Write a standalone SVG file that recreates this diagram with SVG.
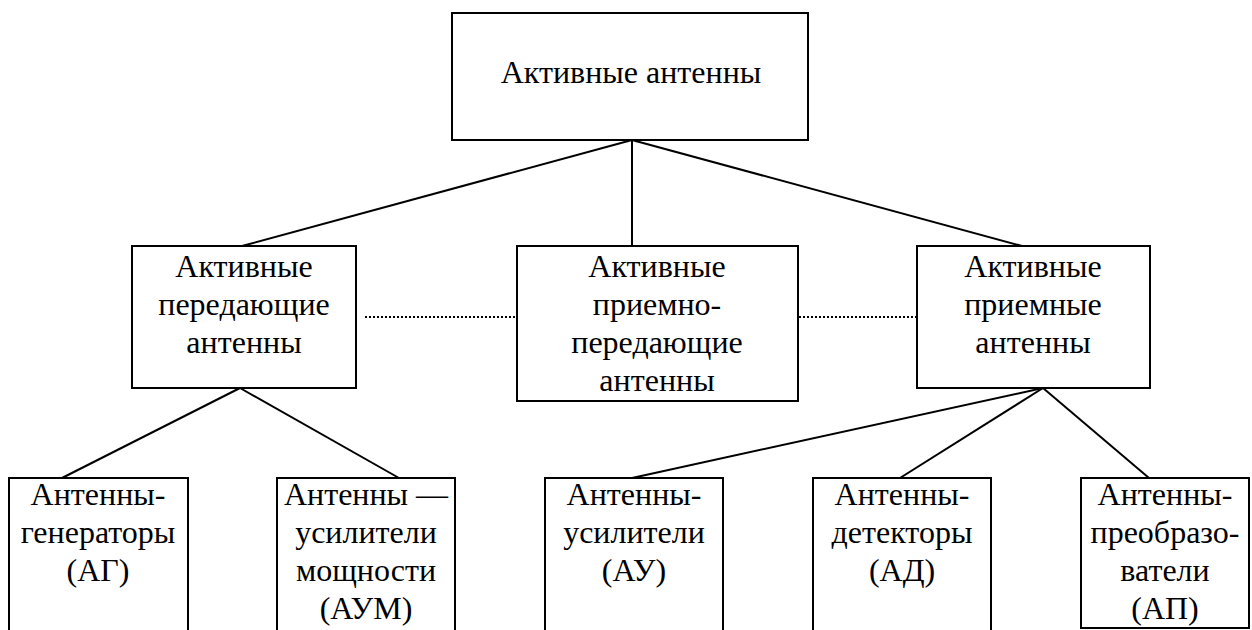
<svg xmlns="http://www.w3.org/2000/svg" width="1252" height="630" viewBox="0 0 1252 630">
<style>
.box{fill:#fff;stroke:#000;stroke-width:2}
.ln{stroke:#000;stroke-width:2;fill:none}
.dot{stroke:#000;stroke-width:2;stroke-dasharray:2 2;fill:none}
.t{font-family:'Liberation Serif','Times New Roman',serif;font-size:32px;fill:#000;text-anchor:middle}
</style>
<rect width="1252" height="630" fill="#fff"/>
<g id="connectors">
<line class="ln" x1="632" y1="140" x2="242" y2="246"/>
<line class="ln" x1="632" y1="140" x2="632" y2="246"/>
<line class="ln" x1="632" y1="140" x2="1022" y2="246"/>
<line class="ln" x1="240" y1="388" x2="62" y2="478"/>
<line class="ln" x1="240" y1="388" x2="399" y2="478"/>
<line class="ln" x1="1043" y1="388" x2="632" y2="478"/>
<line class="ln" x1="1043" y1="388" x2="900" y2="478"/>
<line class="ln" x1="1043" y1="388" x2="1149" y2="478"/>
<line class="dot" x1="365" y1="317" x2="517" y2="317"/>
<line class="dot" x1="799" y1="317" x2="917" y2="317"/>
</g>
<g id="root">
<rect class="box" x="452" y="13" width="356" height="127"/>
<text class="t" x="631" y="83">Активные антенны</text>
</g>
<g id="transmit">
<rect class="box" x="132" y="246" width="224" height="142"/>
<text class="t" x="244" y="277">Активные</text>
<text class="t" x="244" y="315">передающие</text>
<text class="t" x="244" y="353">антенны</text>
</g>
<g id="transceive">
<rect class="box" x="517" y="246" width="281" height="155"/>
<text class="t" x="657" y="277">Активные</text>
<text class="t" x="657" y="315">приемно-</text>
<text class="t" x="657" y="353">передающие</text>
<text class="t" x="657" y="391">антенны</text>
</g>
<g id="receive">
<rect class="box" x="917" y="246" width="233" height="142"/>
<text class="t" x="1033" y="277">Активные</text>
<text class="t" x="1033" y="315">приемные</text>
<text class="t" x="1033" y="353">антенны</text>
</g>
<g id="ag">
<path class="ln" d="M9,640 V478 H188 V640"/>
<text class="t" x="98" y="505">Антенны-</text>
<text class="t" x="98" y="543">генераторы</text>
<text class="t" x="98" y="581">(АГ)</text>
</g>
<g id="aum">
<path class="ln" d="M277,640 V478 H455 V640"/>
<text class="t" x="366" y="505">Антенны —</text>
<text class="t" x="366" y="543">усилители</text>
<text class="t" x="366" y="581">мощности</text>
<text class="t" x="366" y="619">(АУМ)</text>
</g>
<g id="au">
<path class="ln" d="M545,640 V478 H723 V640"/>
<text class="t" x="634" y="505">Антенны-</text>
<text class="t" x="634" y="543">усилители</text>
<text class="t" x="634" y="581">(АУ)</text>
</g>
<g id="ad">
<path class="ln" d="M813,640 V478 H991 V640"/>
<text class="t" x="902" y="505">Антенны-</text>
<text class="t" x="902" y="543">детекторы</text>
<text class="t" x="902" y="581">(АД)</text>
</g>
<g id="ap">
<rect class="box" x="1081" y="478" width="168" height="150"/>
<text class="t" x="1165" y="505">Антенны-</text>
<text class="t" x="1165" y="543">преобразо-</text>
<text class="t" x="1165" y="581">ватели</text>
<text class="t" x="1165" y="619">(АП)</text>
</g>
</svg>
